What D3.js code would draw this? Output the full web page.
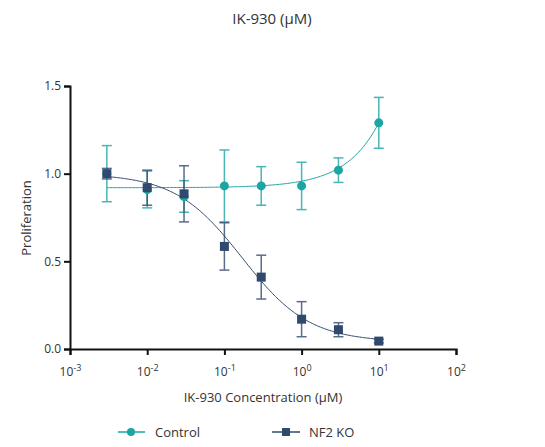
<!DOCTYPE html>
<html><head><meta charset="utf-8">
<script src="https://cdn.jsdelivr.net/npm/d3@7"></script>
<style>body{margin:0;background:#fff}text{font-family:"Open Sans",sans-serif;fill:#333}</style>
</head><body><svg id="c" width="545" height="447"></svg>
<script>
const conc = [0.003, 0.01, 0.03, 0.1, 0.3, 1, 3, 10];
const control = [1.0, 0.91, 0.87, 0.93, 0.93, 0.93, 1.02, 1.29];
const controlErr = [0.16, 0.105, 0.09, 0.205, 0.11, 0.135, 0.07, 0.145];
const nf2 = [1.0, 0.92, 0.885, 0.585, 0.41, 0.17, 0.11, 0.045];
const nf2Err = [0.03, 0.1, 0.16, 0.135, 0.125, 0.1, 0.04, 0.01];
const xTicks = [-3, -2, -1, 0, 1, 2];
const yTicks = [0, 0.5, 1.0, 1.5];
// fitted curve parameters
const ctrlFit = { base: 0.92, k: 0.037 };
const nf2Fit = { top: 1.0, bottom: 0.04, ic50: 0.17, hill: 1 };

const teal = '#1ba5a5', navy = '#30496e';
const svg = d3.select('#c');
const x = d3.scaleLog().domain([1e-3, 1e2]).range([70, 456]);
const y = d3.scaleLinear().domain([0, 1.5]).range([349, 86]);

svg.append('text').attr('x', 272).attr('y', 24).attr('text-anchor', 'middle')
  .style('font-size', '15px').text('IK-930 (μM)');

svg.append('g').attr('transform', 'translate(0,349)')
  .call(d3.axisBottom(x).tickValues(xTicks.map(e => 10 ** e)).tickSize(6)
    .tickFormat(() => ''))
  .call(g => g.selectAll('.tick').append('text').attr('y', 27).attr('text-anchor', 'middle')
    .style('font-size', '12px')
    .each(function (d, i) {
      d3.select(this).append('tspan').text('10');
      d3.select(this).append('tspan').attr('dy', -5).style('font-size', '9px').text(xTicks[i]);
    }));
svg.append('g').attr('transform', 'translate(70,0)')
  .call(d3.axisLeft(y).tickValues(yTicks).tickSize(6).tickFormat(d3.format('.1f')))
  .call(g => g.selectAll('.tick text').style('font-size', '12px'));
svg.selectAll('.domain, .tick line').attr('stroke', '#111').attr('stroke-width', 2);

svg.append('text').attr('x', 263).attr('y', 402).attr('text-anchor', 'middle')
  .style('font-size', '13px').text('IK-930 Concentration (μM)');
svg.append('text').attr('transform', 'translate(31,218) rotate(-90)').attr('text-anchor', 'middle')
  .style('font-size', '13px').text('Proliferation');

const xs = d3.range(0, 201).map(i => 10 ** (Math.log10(0.003) + i / 200 * (Math.log10(10) - Math.log10(0.003))));
const line = d3.line().x(d => x(d[0])).y(d => y(d[1])).curve(d3.curveBasis);
svg.append('path').attr('d', line(xs.map(c => [c, ctrlFit.base + ctrlFit.k * c])))
  .attr('fill', 'none').attr('stroke', teal).attr('stroke-width', 1);
svg.append('path').attr('d', line(xs.map(c => [c, nf2Fit.bottom + (nf2Fit.top - nf2Fit.bottom) / (1 + (c / nf2Fit.ic50) ** nf2Fit.hill)])))
  .attr('fill', 'none').attr('stroke', navy).attr('stroke-width', 1);

function errBars(vals, errs, color) {
  const g = svg.append('g').attr('stroke', color).attr('stroke-width', 1.5).attr('opacity', 0.8);
  conc.forEach((c, i) => {
    const cx = x(c), lo = y(vals[i] - errs[i]), hi = y(vals[i] + errs[i]);
    g.append('line').attr('x1', cx).attr('x2', cx).attr('y1', lo).attr('y2', hi);
    g.append('line').attr('x1', cx - 5).attr('x2', cx + 5).attr('y1', lo).attr('y2', lo);
    g.append('line').attr('x1', cx - 5).attr('x2', cx + 5).attr('y1', hi).attr('y2', hi);
  });
}
errBars(control, controlErr, teal);
errBars(nf2, nf2Err, navy);

svg.selectAll('.pc').data(conc).join('circle').attr('cx', d => x(d)).attr('cy', (d, i) => y(control[i]))
  .attr('r', 4.5).attr('fill', teal);
svg.selectAll('.ps').data(conc).join('rect').attr('x', d => x(d) - 4.5).attr('y', (d, i) => y(nf2[i]) - 4.5)
  .attr('width', 9).attr('height', 9).attr('fill', navy);

// legend
const lg = svg.append('g');
lg.append('line').attr('x1', 118).attr('x2', 145).attr('y1', 432).attr('y2', 432).attr('stroke', teal).attr('stroke-width', 1.5);
lg.append('circle').attr('cx', 131).attr('cy', 432).attr('r', 4).attr('fill', teal);
lg.append('text').attr('x', 155).attr('y', 437).style('font-size', '13px').text('Control');
lg.append('line').attr('x1', 272).attr('x2', 300).attr('y1', 432).attr('y2', 432).attr('stroke', navy).attr('stroke-width', 1.5);
lg.append('rect').attr('x', 282).attr('y', 428).attr('width', 8).attr('height', 8).attr('fill', navy);
lg.append('text').attr('x', 309).attr('y', 437).style('font-size', '13px').text('NF2 KO');
</script></body></html>
